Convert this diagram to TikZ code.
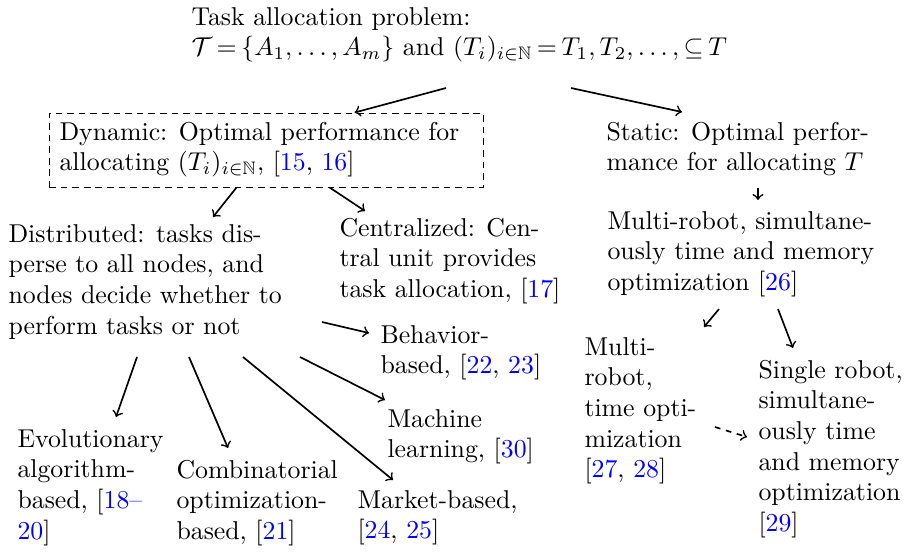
\documentclass[tikz,border=0pt]{standalone}
\usepackage{amssymb}
\usetikzlibrary{calc,fit}
\newcommand\mlines[1]{\begin{tabular}[t]{@{}l@{}}#1\end{tabular}}
\newcommand\cit[1]{\textcolor{blue}{#1}}
\begin{document}
\begin{tikzpicture}[x=0.3876pt,y=-0.3876pt,
  txt/.style={inner sep=0pt, anchor=base west, font=\fontsize{10}{11.9}\selectfont},
  arr/.style={->, line width=0.65pt},
  dbox/.style={draw, dash pattern=on 2.6pt off 1.9pt, line width=0.35pt, inner sep=0pt},
  darr/.style={->, line width=0.65pt, dash pattern=on 2.2pt off 2.2pt}]
\useasboundingbox (0,0) rectangle (911,552);

\node[txt] (top) at (191,25) {\thickmuskip=3.2mu plus 5mu\mlines{Task allocation problem:\\
  $\mathcal{T} = \{A_1, \ldots, A_m\}$ and $(T_i)_{i\in\mathbb{N}} = T_1, T_2, \ldots, \subseteq T$}};

\node[txt] (dyn) at (59,140) {\mlines{Dynamic: Optimal performance for\\
  allocating $(T_i)_{i\in\mathbb{N}}$, [\cit{15}, \cit{16}]}};
\coordinate (dbl) at (49,113);
\coordinate (dbr) at (483,187);
\node[dbox, fit=(dbl)(dbr)] (dynbox) {};

\node[txt] (static) at (606,140) {\mlines{Static: Optimal perfor-\\mance for allocating $T$}};
\node[txt] (multi) at (607,229) {\mlines{Multi-robot, simultane-\\ously time and memory\\optimization [\cit{26}]}};

\node[txt] (dist) at (8,242) {\mlines{Distributed: tasks dis-\\perse to all nodes, and\\nodes decide whether to\\perform tasks or not}};
\node[txt] (cent) at (339,236) {\mlines{Centralized: Cen-\\tral unit provides\\task allocation, [\cit{17}]}};

\node[txt] (beh) at (380,343) {\mlines{Behavior-\\based, [\cit{22}, \cit{23}]}};
\node[txt] (ml) at (387,427) {\mlines{Machine\\learning, [\cit{30}]}};
\node[txt] (mk) at (357,508) {\mlines{Market-based,\\{}[\cit{24}, \cit{25}]}};
\node[txt] (ev) at (17,447) {\mlines{Evolutionary\\algorithm-\\based, [\cit{18--}\\\cit{20}]}};
\node[txt] (cb) at (176,478) {\mlines{Combinatorial\\optimization-\\based, [\cit{21}]}};

\node[txt] (mt) at (584,355) {\mlines{Multi-\\robot,\\time opti-\\mization\\{}[\cit{27}, \cit{28}]}};
\node[txt] (sg) at (758,378) {\mlines{Single robot,\\simultane-\\ously time\\and memory\\optimization\\{}[\cit{29}]}};

% connectors
\draw[arr] ($(top.base west)+(255,63)$) -- ($(dynbox.north west)+(306,0)$);
\draw[arr] ($(top.base west)+(380,63)$) -- ($(static.base west)+(76,-28)$);
\draw[arr] ($(dynbox.south west)+(188,0)$) -- ($(dist.base west)+(205,-25)$);
\draw[arr] ($(dynbox.south west)+(281,0)$) -- ($(cent.base west)+(26,-25)$);
\draw[arr] ($(static.base west)+(152,48)$) -- ($(multi.base west)+(151,-29)$);
\draw[arr] ($(multi.base west)+(112,80)$) -- ($(mt.base west)+(120,-28)$);
\draw[arr] ($(multi.base west)+(171,80)$) -- ($(sg.base west)+(35,-30)$);
\draw[darr] ($(mt.base west)+(131,72)$) -- ($(sg.base west)+(-11,59)$);
\draw[arr] ($(dist.base west)+(314,80)$) -- ($(beh.base west)+(-11,-10)$);
\draw[arr] ($(dist.base west)+(292,115)$) -- ($(ml.base west)+(-2,-27)$);
\draw[arr] ($(dist.base west)+(235,115)$) -- ($(mk.base west)+(36,-28)$);
\draw[arr] ($(dist.base west)+(129,115)$) -- ($(ev.base west)+(99,-30)$);
\draw[arr] ($(dist.base west)+(181,115)$) -- ($(cb.base west)+(52,-30)$);
\end{tikzpicture}
\end{document}
